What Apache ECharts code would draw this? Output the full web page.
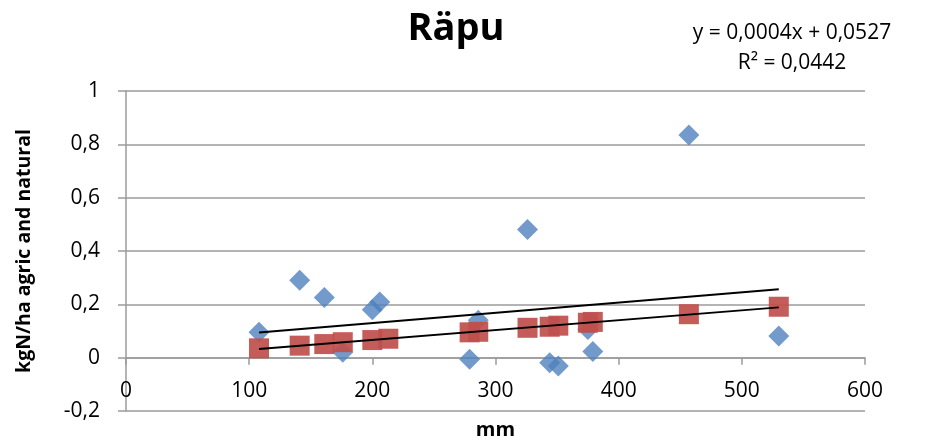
<!DOCTYPE html>
<html>
<head>
<meta charset="utf-8">
<script src="https://cdn.jsdelivr.net/npm/echarts@6/dist/echarts.min.js"></script>
<style>
html,body{margin:0;padding:0;background:#fff;}
#chart{width:934px;height:444px;}
</style>
</head>
<body>
<div id="chart"></div>
<script>
// ---- data ----
const chartTitle = 'Räpu';
const xAxisTitle = 'mm';
const yAxisTitle = 'kgN/ha agric and natural';
const equationLines = ['y = 0,0004x + 0,0527', 'R² = 0,0442'];

const blueX = [108, 141, 161, 176, 200, 206, 279, 286, 326, 344, 351, 375, 379, 457, 530];
const blueY = [0.095, 0.29, 0.226, 0.02, 0.18, 0.209, -0.006, 0.14, 0.481, -0.019, -0.031, 0.106, 0.023, 0.835, 0.081];

const redX = [108, 141, 161, 176, 200, 213, 279, 286, 326, 344, 351, 375, 379, 457, 530];
const redY = [0.035, 0.045, 0.051, 0.058, 0.066, 0.071, 0.095, 0.097, 0.112, 0.116, 0.12, 0.131, 0.134, 0.163, 0.191];

// trendline of the blue series as drawn: [slope, intercept]
const blueTrendCoef = [0.000384, 0.0527];

const xTicks = [0, 100, 200, 300, 400, 500, 600];
const yTicks = [-0.2, 0, 0.2, 0.4, 0.6, 0.8, 1];

// ---- helpers ----
function zip(xs, ys) { return xs.map((x, i) => [x, ys[i]]); }
function leastSquares(xs, ys) {
  const n = xs.length;
  const mx = xs.reduce((a, b) => a + b, 0) / n;
  const my = ys.reduce((a, b) => a + b, 0) / n;
  let sxy = 0, sxx = 0;
  for (let i = 0; i < n; i++) { sxy += (xs[i] - mx) * (ys[i] - my); sxx += (xs[i] - mx) ** 2; }
  const slope = sxy / sxx;
  return [slope, my - slope * mx];
}
function lineFrom(coef, xs) {
  const lo = Math.min(...xs), hi = Math.max(...xs);
  return [[lo, coef[0] * lo + coef[1]], [hi, coef[0] * hi + coef[1]]];
}
const redTrendCoef = leastSquares(redX, redY);

const FONT = "'Open Sans', 'Liberation Sans', sans-serif";
const GRID_COLOR = '#9b9b9b';
const GRID = { left: 126, right: 69, top: 91, bottom: 33 };
const plotH = 444 - GRID.top - GRID.bottom;
const yMin = yTicks[0], yMax = yTicks[yTicks.length - 1];
// the horizontal axis crosses the vertical one at value 0
const xAxisOffset = -plotH * (0 - yMin) / (yMax - yMin);

const chart = echarts.init(document.getElementById('chart'), null, { renderer: 'canvas' });
chart.setOption({
  animation: false,
  backgroundColor: '#ffffff',
  title: {
    text: chartTitle,
    left: 451,
    top: 5,
    textAlign: 'center',
    textStyle: { fontFamily: FONT, fontSize: 38, fontWeight: 'bold', color: '#000' }
  },
  graphic: equationLines.map((t, i) => ({
    type: 'text',
    x: 792,
    y: 33 + i * 30,
    style: {
      text: t,
      fontFamily: FONT,
      fontSize: 21,
      fill: '#000',
      textAlign: 'center',
      textVerticalAlign: 'middle'
    }
  })),
  grid: Object.assign({ containLabel: false, outerBoundsMode: 'none' }, GRID),
  xAxis: {
    type: 'value',
    position: 'bottom',
    offset: xAxisOffset,
    min: xTicks[0],
    max: xTicks[xTicks.length - 1],
    interval: xTicks[1] - xTicks[0],
    name: xAxisTitle,
    nameLocation: 'middle',
    nameGap: 63,
    nameTextStyle: { fontFamily: FONT, fontSize: 20, fontWeight: 'bold', color: '#000' },
    axisLine: { show: true, onZero: false, lineStyle: { color: GRID_COLOR, width: 1.5 } },
    axisTick: { show: true, inside: false, length: 7, lineStyle: { color: GRID_COLOR, width: 1.5 } },
    axisLabel: { margin: 23, fontFamily: FONT, fontSize: 21, color: '#000' },
    splitLine: { show: false }
  },
  yAxis: {
    type: 'value',
    min: yMin,
    max: yMax,
    interval: 0.2,
    name: yAxisTitle,
    nameLocation: 'middle',
    nameRotate: 90,
    nameGap: 92,
    nameTextStyle: { fontFamily: FONT, fontSize: 19.5, fontWeight: 'bold', color: '#000' },
    axisLine: { show: true, onZero: false, lineStyle: { color: GRID_COLOR, width: 1.5 } },
    axisTick: { show: true, inside: false, length: 8, lineStyle: { color: GRID_COLOR, width: 1.5 } },
    axisLabel: {
      margin: 26, fontFamily: FONT, fontSize: 21, color: '#000',
      formatter: v => String(Math.round(v * 10) / 10).replace('.', ',')
    },
    splitLine: { show: true, lineStyle: { color: GRID_COLOR, width: 1.5 } }
  },
  series: [
    {
      type: 'scatter',
      data: zip(blueX, blueY),
      symbol: 'diamond',
      symbolSize: 21,
      itemStyle: { color: '#4f81bd' },
      z: 2
    },
    {
      type: 'scatter',
      data: zip(redX, redY),
      symbol: 'rect',
      symbolSize: 20,
      itemStyle: { color: '#c0504d', opacity: 0.93 },
      z: 3
    },
    {
      type: 'line',
      data: lineFrom(blueTrendCoef, blueX),
      symbol: 'none',
      lineStyle: { color: '#000', width: 2 },
      z: 4
    },
    {
      type: 'line',
      data: lineFrom(redTrendCoef, redX),
      symbol: 'none',
      lineStyle: { color: '#000', width: 2 },
      z: 4
    }
  ]
});
</script>
</body>
</html>
